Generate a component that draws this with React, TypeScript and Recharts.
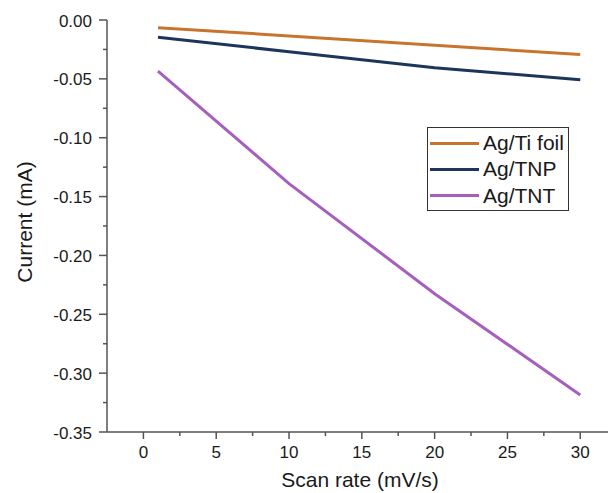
import { LineChart, Line, XAxis, YAxis, Legend, Label } from "recharts";

// scan rate (mV/s)
const scanRates = [1, 10, 20, 30];
// current (mA)
const tiFoil = [-0.0066, -0.0135, -0.0215, -0.0294];
const tnp = [-0.0146, -0.027, -0.0405, -0.0507];
const tnt = [-0.0435, -0.139, -0.2325, -0.3185];

const xTicks = [0, 2.5, 5, 7.5, 10, 12.5, 15, 17.5, 20, 22.5, 25, 27.5, 30];
const yTicks = [
  0, -0.025, -0.05, -0.075, -0.1, -0.125, -0.15, -0.175, -0.2, -0.225, -0.25,
  -0.275, -0.3, -0.325, -0.35,
];
const topTicks = [1, 4.5, 8, 11.5, 15, 18.5, 22, 25.5, 29];
const rightTicks = [-0.035, -0.07, -0.105, -0.14, -0.175, -0.21, -0.245, -0.28, -0.315];

const series = [
  { key: "tiFoil", name: "Ag/Ti foil", color: "#c8742e" },
  { key: "tnp", name: "Ag/TNP", color: "#1c355a" },
  { key: "tnt", name: "Ag/TNT", color: "#a65fbc" },
];

const data = scanRates.map((x, i) => ({
  x,
  tiFoil: tiFoil[i],
  tnp: tnp[i],
  tnt: tnt[i],
}));

const font = "'Liberation Sans', Arial, sans-serif";
const axisColor = "#555";
const textColor = "#1a1a1a";

const isMult = (v: number, step: number) =>
  Math.abs(v / step - Math.round(v / step)) < 1e-6;

function BottomTick(props: any) {
  const { x, y, payload } = props;
  const major = isMult(payload.value, 5);
  return (
    <g>
      <line x1={x} x2={x} y1={y} y2={y + (major ? 7 : 4)} stroke={axisColor} strokeWidth={1.5} />
      {major && (
        <text x={x} y={y + 26} textAnchor="middle" fontSize={17} fill={textColor} fontFamily={font}>
          {payload.value}
        </text>
      )}
    </g>
  );
}

function LeftTick(props: any) {
  const { x, y, payload } = props;
  const major = isMult(payload.value, 0.05);
  return (
    <g>
      <line x1={x} x2={x - (major ? 8 : 4)} y1={y} y2={y} stroke={axisColor} strokeWidth={1.5} />
      {major && (
        <text x={x - 15} y={y + 6.5} textAnchor="end" fontSize={17} fill={textColor} fontFamily={font}>
          {payload.value.toFixed(2)}
        </text>
      )}
    </g>
  );
}

function TopTick(props: any) {
  const { x, y, payload } = props;
  const major = isMult(payload.value - 4.5, 7);
  return <line x1={x} x2={x} y1={y} y2={y + (major ? 7 : 4)} stroke={axisColor} strokeWidth={1.5} />;
}

function RightTick(props: any) {
  const { x, y, payload } = props;
  const major = isMult(payload.value, 0.07);
  return <line x1={x} x2={x - (major ? 7 : 4)} y1={y} y2={y} stroke={axisColor} strokeWidth={1.5} />;
}

function LegendBox() {
  return (
    <div
      style={{
        border: "1.5px solid #333",
        background: "#fff",
        padding: "2px 2px 1px 2px",
        width: 142,
        boxSizing: "border-box",
        fontFamily: font,
        fontSize: 21,
        color: textColor,
      }}
    >
      {series.map((s) => (
        <div key={s.key} style={{ display: "flex", alignItems: "center", height: 26.3, whiteSpace: "nowrap" }}>
          <span style={{ display: "inline-block", width: 49, height: 3, background: s.color, marginRight: 4 }} />
          {s.name}
        </div>
      ))}
    </div>
  );
}

export default function App() {
  return (
    <div style={{ position: "absolute", left: 0, top: 0, width: 608, height: 493, overflow: "hidden", background: "#fff" }}>
      <LineChart width={620} height={493} data={data} margin={{ top: 20, right: 8, bottom: 0, left: 0 }}>
        <XAxis
          xAxisId="bottom"
          dataKey="x"
          type="number"
          domain={[-2.5, 32.18]}
          allowDataOverflow
          ticks={xTicks}
          interval={0}
          height={61}
          tickSize={0}
          tickMargin={0}
          tick={BottomTick}
          axisLine={{ stroke: axisColor, strokeWidth: 1.5 }}
        >
          <Label
            content={() => (
              <text x={360} y={487} textAnchor="middle" fontSize={21} fill={textColor} fontFamily={font}>
                Scan rate (mV/s)
              </text>
            )}
          />
        </XAxis>
        <XAxis
          xAxisId="top"
          orientation="top"
          dataKey="x"
          type="number"
          domain={[-2.5, 32.18]}
          allowDataOverflow
          ticks={topTicks}
          interval={0}
          height={0}
          tickSize={0}
          tickMargin={0}
          tick={TopTick}
          axisLine={{ stroke: axisColor, strokeWidth: 1.5 }}
        />
        <YAxis
          yAxisId="left"
          type="number"
          domain={[-0.35, 0]}
          allowDataOverflow
          ticks={yTicks}
          interval={0}
          width={107}
          tickSize={0}
          tickMargin={0}
          tick={LeftTick}
          axisLine={{ stroke: axisColor, strokeWidth: 1.5 }}
        >
          <Label
            content={() => (
              <text
                x={32}
                y={222}
                textAnchor="middle"
                fontSize={21}
                fill={textColor}
                fontFamily={font}
                transform="rotate(-90 32 222)"
              >
                Current (mA)
              </text>
            )}
          />
        </YAxis>
        <YAxis
          yAxisId="right"
          orientation="right"
          type="number"
          domain={[-0.35, 0]}
          allowDataOverflow
          ticks={rightTicks}
          interval={0}
          width={0}
          tickSize={0}
          tickMargin={0}
          tick={RightTick}
          axisLine={{ stroke: axisColor, strokeWidth: 1.5 }}
        />
        <Legend
          layout="vertical"
          align="center"
          verticalAlign="middle"
          content={LegendBox}
          wrapperStyle={{ left: 427, top: 127, width: 142 }}
        />
        {series.map((s) => (
          <Line
            key={s.key}
            xAxisId="bottom"
            yAxisId="left"
            type="linear"
            dataKey={s.key}
            name={s.name}
            stroke={s.color}
            strokeWidth={3}
            dot={false}
            isAnimationActive={false}
          />
        ))}
      </LineChart>
    </div>
  );
}
